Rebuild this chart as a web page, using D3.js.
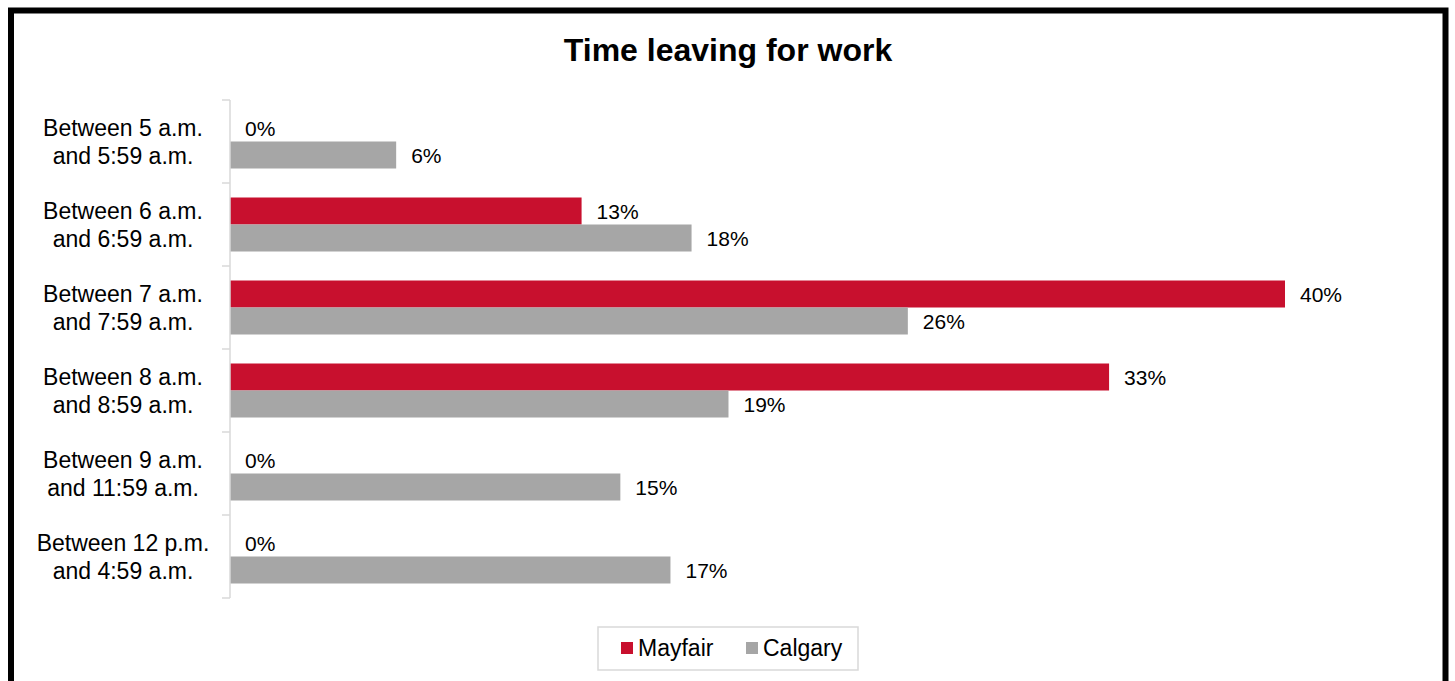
<!DOCTYPE html>
<html>
<head>
<meta charset="utf-8">
<script src="https://cdn.jsdelivr.net/npm/d3@7"></script>
<style>
  html, body { margin: 0; padding: 0; background: #fff; }
  svg { display: block; font-family: "Liberation Sans", Arial, sans-serif; }
</style>
</head>
<body>
<div id="chart"></div>
<script>
// data
const categories = [
  ["Between 5 a.m.", "and 5:59 a.m."],
  ["Between 6 a.m.", "and 6:59 a.m."],
  ["Between 7 a.m.", "and 7:59 a.m."],
  ["Between 8 a.m.", "and 8:59 a.m."],
  ["Between 9 a.m.", "and 11:59 a.m."],
  ["Between 12 p.m.", "and 4:59 a.m."]
];
const seriesNames = ["Mayfair", "Calgary"];
const mayfair = [0, 13.33, 40, 33.33, 0, 0];
const calgary = [6.3, 17.5, 25.7, 18.9, 14.8, 16.7];
const colors = ["#c8102e", "#a6a6a6"];

const W = 1455, H = 681;
const svg = d3.select("#chart").append("svg")
  .attr("width", W).attr("height", H);

// outer frame
svg.append("rect")
  .attr("x", 11).attr("y", 10.5)
  .attr("width", 1434.5).attr("height", 720)
  .attr("fill", "none").attr("stroke", "#000").attr("stroke-width", 6);

// title
svg.append("text")
  .attr("x", 728).attr("y", 61)
  .attr("text-anchor", "middle")
  .style("font-size", "32px").style("font-weight", "bold")
  .text("Time leaving for work");

const idx = d3.range(categories.length);
const y = d3.scaleBand().domain(idx).range([100, 598]);
const ySub = d3.scaleBand().domain([0, 1]).range([0, y.bandwidth()]).paddingOuter(0.537).paddingInner(0);
const x = d3.scaleLinear().domain([0, 40]).range([230, 1285]);

const rows = idx.map(i => ({ i, vals: [mayfair[i], calgary[i]] }));

// bars
const g = svg.append("g");
const grp = g.selectAll("g.cat").data(rows).enter().append("g")
  .attr("transform", d => `translate(0,${y(d.i)})`);

grp.selectAll("rect").data(d => d.vals.map((v, s) => ({ v, s }))).enter().append("rect")
  .attr("x", x(0))
  .attr("y", d => ySub(d.s))
  .attr("width", d => x(d.v) - x(0))
  .attr("height", ySub.bandwidth())
  .attr("fill", d => colors[d.s]);

grp.selectAll("text.lbl").data(d => d.vals.map((v, s) => ({ v, s }))).enter().append("text")
  .attr("class", "lbl")
  .attr("x", d => x(d.v) + 15)
  .attr("y", d => ySub(d.s) + ySub.bandwidth() / 2)
  .attr("dy", "0.36em")
  .style("font-size", "21px")
  .text(d => Math.round(d.v) + "%");

// category axis
const axis = svg.append("g").attr("stroke", "#d9d9d9").attr("stroke-width", 1.5);
axis.append("line").attr("x1", 230).attr("x2", 230).attr("y1", 100).attr("y2", 598);
axis.selectAll("line.tick").data(d3.range(categories.length + 1)).enter().append("line")
  .attr("x1", 222).attr("x2", 230)
  .attr("y1", d => 100 + d * y.step()).attr("y2", d => 100 + d * y.step());

const labels = svg.append("g").selectAll("text").data(rows).enter().append("text")
  .attr("x", 123)
  .attr("text-anchor", "middle")
  .style("font-size", "23px");
labels.append("tspan").attr("x", 123)
  .attr("y", d => y(d.i) + y.bandwidth() / 2 - 5.5)
  .text(d => categories[d.i][0]);
labels.append("tspan").attr("x", 123)
  .attr("y", d => y(d.i) + y.bandwidth() / 2 + 22.5)
  .text(d => categories[d.i][1]);

// legend
const leg = svg.append("g");
leg.append("rect").attr("x", 598).attr("y", 627).attr("width", 260).attr("height", 43)
  .attr("fill", "#fff").attr("stroke", "#d9d9d9").attr("stroke-width", 1.5);
const legX = [621, 746];
seriesNames.forEach((n, s) => {
  leg.append("rect").attr("x", legX[s]).attr("y", 642).attr("width", 12).attr("height", 12)
    .attr("fill", colors[s]);
  leg.append("text").attr("x", legX[s] + 17).attr("y", 656)
    .style("font-size", "23px").text(n);
});
</script>
</body>
</html>
